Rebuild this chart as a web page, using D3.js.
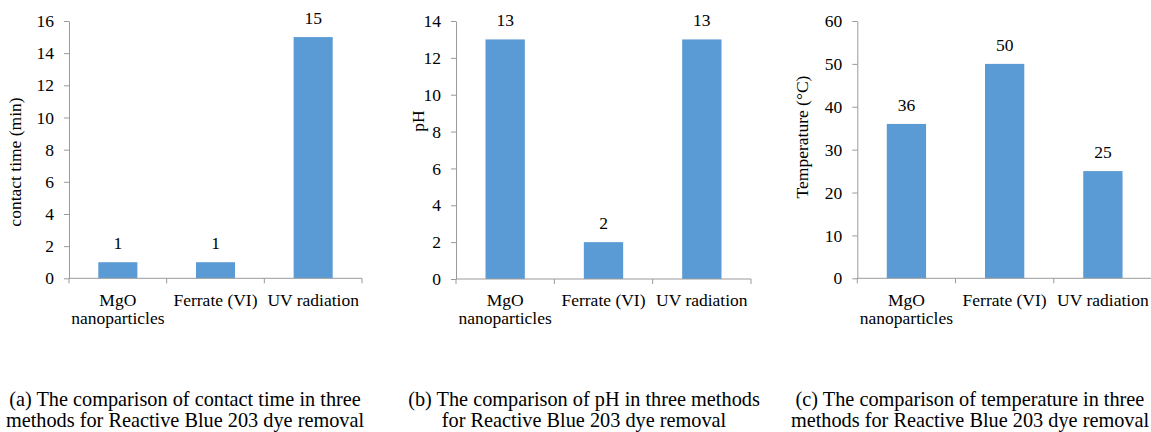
<!DOCTYPE html>
<html>
<head>
<meta charset="utf-8">
<script src="https://cdn.jsdelivr.net/npm/d3@7/dist/d3.min.js"></script>
<style>
  html, body { margin: 0; padding: 0; background: #fff; }
  svg { display: block; font-family: "Liberation Serif", "Times New Roman", serif; }
</style>
</head>
<body>
<svg id="chart" width="1151" height="432"></svg>
<script>
// Methods compared
const methods = [["MgO", "nanoparticles"], ["Ferrate (VI)"], ["UV radiation"]];

// Operating conditions per method
const contactTime = [1, 1, 15];      // min
const phValues = [13, 2, 13];
const temperature = [36, 50, 25];    // °C

// Axis ticks
const contactTicks = [0, 2, 4, 6, 8, 10, 12, 14, 16];
const phTicks = [0, 2, 4, 6, 8, 10, 12, 14];
const tempTicks = [0, 10, 20, 30, 40, 50, 60];

// Axis titles
const yTitles = ["contact time (min)", "pH", "Temperature (°C)"];

// Panel captions (two lines each)
const captions = [
  ["(a) The comparison of contact time in three", "methods for Reactive Blue 203 dye removal"],
  ["(b) The comparison of pH in three methods", "for Reactive Blue 203 dye removal"],
  ["(c) The comparison of temperature in three", "methods for Reactive Blue 203 dye removal"]
];

const BAR = "#5B9BD5";
const AXIS = "#9a9a9a";
const TEXT = "#000";

const svg = d3.select("#chart");

const panels = [
  { values: contactTime, ticks: contactTicks, title: yTitles[0], caption: captions[0],
    x0: 69, x1: 362, top: 21, zero: 278.3, titleX: 15, titleY: 162, capX: 185 },
  { values: phValues, ticks: phTicks, title: yTitles[1], caption: captions[1],
    x0: 456, x1: 751, top: 21, zero: 279, titleX: 418, titleY: 121, capX: 584 },
  { values: temperature, ticks: tempTicks, title: yTitles[2], caption: captions[2],
    x0: 857.3, x1: 1152, top: 21, zero: 278.3, titleX: 802, titleY: 137, capX: 970 }
];

panels.forEach(p => {
  const g = svg.append("g");
  const keys = methods.map(m => m.join(" "));

  const x = d3.scaleBand()
    .domain(keys)
    .range([p.x0, p.x1])
    .paddingInner(0.6)
    .paddingOuter(0.3);

  const y = d3.scaleLinear()
    .domain([0, d3.max(p.ticks)])
    .range([p.zero, p.top]);

  // y axis
  const yAxis = d3.axisLeft(y)
    .tickValues(p.ticks)
    .tickSize(5)
    .tickSizeOuter(0)
    .tickPadding(10)
    .tickFormat(d3.format("d"));

  const ya = g.append("g")
    .attr("transform", `translate(${p.x0},0)`)
    .call(yAxis);
  ya.select(".domain").attr("stroke", AXIS);
  ya.selectAll(".tick line").attr("stroke", AXIS);
  ya.selectAll(".tick text")
    .attr("fill", TEXT)
    .attr("font-size", 17.5)
    .attr("font-family", "Liberation Serif, Times New Roman, serif");

  // bars
  g.selectAll("rect.bar")
    .data(p.values)
    .join("rect")
    .attr("class", "bar")
    .attr("x", (d, i) => x(keys[i]))
    .attr("width", x.bandwidth())
    .attr("y", d => y(d))
    .attr("height", d => y(0) - y(d))
    .attr("fill", BAR);

  // x axis baseline and category boundary ticks
  const step = x.step();
  const edges = keys.map(k => x(k) - step * x.paddingOuter()).concat([p.x1]);
  g.append("line")
    .attr("x1", p.x0).attr("x2", p.x1)
    .attr("y1", y(0)).attr("y2", y(0))
    .attr("stroke", AXIS);
  g.selectAll("line.xtick")
    .data(edges)
    .join("line")
    .attr("class", "xtick")
    .attr("x1", d => d).attr("x2", d => d)
    .attr("y1", y(0)).attr("y2", y(0) + 5)
    .attr("stroke", AXIS);

  // category labels
  methods.forEach((lines, i) => {
    const t = g.append("text")
      .attr("text-anchor", "middle")
      .attr("font-size", 17.5)
      .attr("fill", TEXT);
    lines.forEach((ln, j) => {
      t.append("tspan")
        .attr("x", x(keys[i]) + x.bandwidth() / 2)
        .attr("y", 306 + j * 18)
        .text(ln);
    });
  });

  // value labels
  g.selectAll("text.val")
    .data(p.values)
    .join("text")
    .attr("class", "val")
    .attr("x", (d, i) => x(keys[i]) + x.bandwidth() / 2)
    .attr("y", d => y(d) - 13)
    .attr("text-anchor", "middle")
    .attr("font-size", 17.5)
    .attr("fill", TEXT)
    .text(d => d);

  // y axis title
  g.append("text")
    .attr("transform", `translate(${p.titleX},${p.titleY}) rotate(-90)`)
    .attr("text-anchor", "middle")
    .attr("dy", "0.35em")
    .attr("font-size", 17.5)
    .attr("fill", TEXT)
    .text(p.title);

  // caption
  const cap = g.append("text")
    .attr("text-anchor", "middle")
    .attr("font-size", 20.3)
    .attr("fill", TEXT);
  p.caption.forEach((ln, j) => {
    cap.append("tspan")
      .attr("x", p.capX)
      .attr("y", 406 + j * 20.5)
      .text(ln);
  });
});
</script>
</body>
</html>
